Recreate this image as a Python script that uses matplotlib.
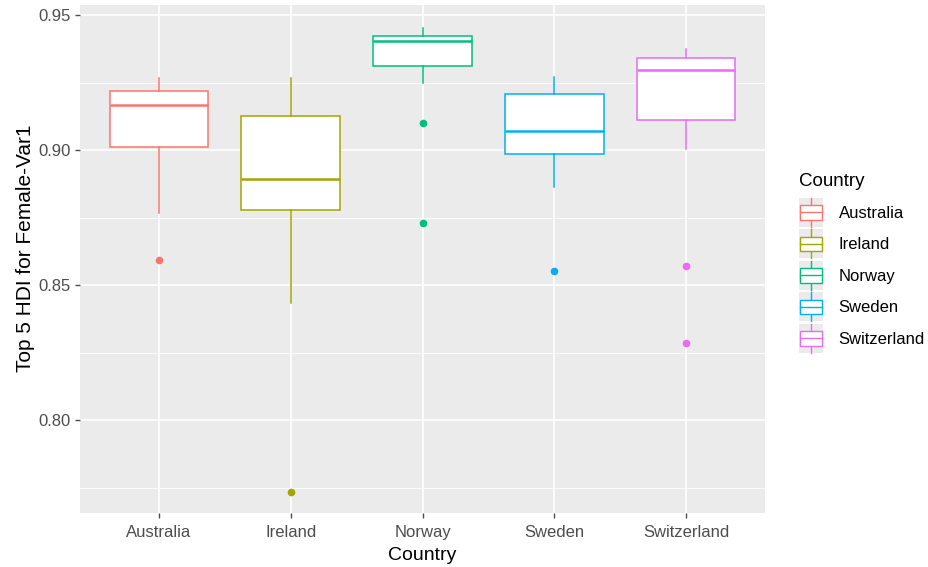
import matplotlib
matplotlib.use("Agg")
import matplotlib.pyplot as plt
from matplotlib.legend_handler import HandlerBase
from matplotlib.patches import Patch, Rectangle
from matplotlib.lines import Line2D

plt.rcParams['font.family'] = ['Liberation Sans', 'DejaVu Sans']

# box statistics
countries = ['Australia', 'Ireland', 'Norway', 'Sweden', 'Switzerland']
whisker_low = [0.8767, 0.8433, 0.9248, 0.8863, 0.9004]
q1 = [0.9011, 0.8778, 0.9311, 0.8985, 0.9111]
medians = [0.9167, 0.8893, 0.9404, 0.9070, 0.9296]
q3 = [0.9219, 0.9126, 0.9422, 0.9207, 0.9341]
whisker_high = [0.9267, 0.9267, 0.9452, 0.9270, 0.9374]
outliers = [[0.8593], [0.7733], [0.9100, 0.8730], [0.8552], [0.8570, 0.8285]]

colors = ['#F8766D', '#A3A500', '#00BF7D', '#00B0F6', '#E76BF3']

fig = plt.figure(figsize=(9.29, 5.67), dpi=100)
ax = fig.add_axes([80 / 929, 54 / 567, 685 / 929, 508 / 567])
ax.set_facecolor('#EBEBEB')

# grid, ggplot style
for y in [0.775, 0.825, 0.875, 0.925]:
    ax.axhline(y, color='white', lw=0.6, zorder=0)
for y in [0.80, 0.85, 0.90, 0.95]:
    ax.axhline(y, color='white', lw=1.2, zorder=0)
for x in range(1, 6):
    ax.axvline(x, color='white', lw=1.2, zorder=0)

for i, c in enumerate(countries):
    stats = [dict(med=medians[i], q1=q1[i], q3=q3[i], whislo=whisker_low[i],
                  whishi=whisker_high[i], fliers=outliers[i], label=c)]
    col = colors[i]
    ax.bxp(stats, positions=[i + 1], widths=0.75, showcaps=False, patch_artist=True,
           boxprops=dict(facecolor='white', edgecolor=col, lw=1.1),
           medianprops=dict(color=col, lw=1.8),
           whiskerprops=dict(color=col, lw=1.1),
           flierprops=dict(marker='o', markerfacecolor=col, markeredgecolor=col, markersize=4.5),
           manage_ticks=False, zorder=2)

ax.set_xlim(0.4, 5.6)
ax.set_ylim(0.7656, 0.9537)
ax.set_xticks(range(1, 6))
ax.set_xticklabels(countries)
ax.set_yticks([0.80, 0.85, 0.90, 0.95])
ax.set_yticklabels(['0.80', '0.85', '0.90', '0.95'])
ax.tick_params(colors='#4D4D4D', labelsize=12, length=3.5, width=1, labelcolor='#4D4D4D')
ax.tick_params(axis='x', pad=5)
for s in ax.spines.values():
    s.set_visible(False)
ax.set_xlabel('Country', fontsize=14, color='black', labelpad=5)
ax.set_ylabel('Top 5 HDI for Female-Var1', fontsize=15, color='black')
ax.yaxis.set_label_coords(-0.066, 0.522)


class BoxKey(HandlerBase):
    def create_artists(self, legend, orig_handle, xdescent, ydescent, width, height, fontsize, trans):
        col = orig_handle.get_edgecolor()
        bg = Rectangle((-xdescent, -ydescent), width, height, facecolor='#EBEBEB',
                       edgecolor='none', transform=trans)
        bw, bh = width * 0.9, height * 0.5
        x0 = -xdescent + (width - bw) / 2
        y0 = -ydescent + (height - bh) / 2
        box = Rectangle((x0, y0), bw, bh, facecolor='white', edgecolor=col, lw=1.0, transform=trans)
        cx = -xdescent + width / 2
        w1 = Line2D([cx, cx], [-ydescent, y0], color=col, lw=1.0, transform=trans)
        w2 = Line2D([cx, cx], [y0 + bh, -ydescent + height], color=col, lw=1.0, transform=trans)
        med = Line2D([x0, x0 + bw], [y0 + bh / 2] * 2, color=col, lw=1.0, transform=trans)
        return [bg, w1, w2, box, med]


handles = [Patch(facecolor='white', edgecolor=col) for col in colors]
leg = fig.legend(handles, countries, handler_map={Patch: BoxKey()}, loc='upper left',
                 bbox_to_anchor=(792 / 929, 1 - 166 / 567), frameon=False, title='Country',
                 fontsize=12, title_fontsize=13.5, handlelength=1.45, handleheight=2.3,
                 handletextpad=0.95, labelspacing=0.15, borderaxespad=0)
leg._legend_box.align = 'left'
leg._legend_box.sep = 6

fig.savefig('out.png', dpi=100)
